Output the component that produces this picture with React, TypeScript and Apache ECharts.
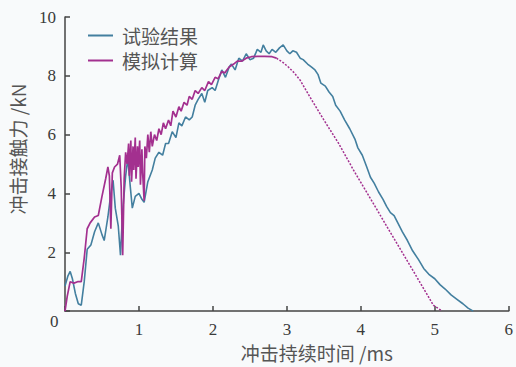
import React, { useEffect, useRef } from "react";
import * as echarts from "echarts";

const expTime = [0.00,0.04,0.07,0.10,0.14,0.18,0.22,0.26,0.30,0.35,0.40,0.45,0.50,0.53,0.58,0.62,0.65,0.68,0.72,0.75,0.78,0.82,0.85,0.88,0.91,0.95,1.00,1.04,1.07,1.12,1.18,1.22,1.27,1.32,1.36,1.40,1.45,1.50,1.54,1.58,1.63,1.68,1.72,1.76,1.80,1.85,1.89,1.93,1.99,2.03,2.08,2.12,2.17,2.22,2.25,2.30,2.35,2.40,2.45,2.50,2.55,2.60,2.65,2.68,2.72,2.76,2.80,2.85,2.90,2.95,3.00,3.04,3.08,3.13,3.18,3.22,3.28,3.33,3.38,3.42,3.46,3.52,3.57,3.62,3.66,3.72,3.78,3.85,3.92,3.96,4.02,4.08,4.13,4.18,4.24,4.30,4.35,4.40,4.45,4.50,4.56,4.63,4.70,4.78,4.85,4.92,5.00,5.07,5.14,5.22,5.30,5.38,5.45,5.52];
const expForce = [0.85,1.2,1.35,1.1,0.6,0.25,0.2,1.0,2.1,2.25,2.7,3.0,2.6,2.4,3.2,4.0,4.45,3.5,2.9,1.9,3.4,4.6,5.2,4.3,3.5,3.9,4.0,3.8,3.7,4.4,4.8,5.2,5.4,5.3,5.7,5.7,6.1,5.9,6.4,6.3,6.6,6.5,6.6,7.0,7.2,7.4,7.1,7.5,7.6,7.5,7.9,8.2,7.95,8.3,8.4,8.2,8.6,8.5,8.75,8.55,8.6,8.9,8.8,9.05,8.85,8.75,8.9,8.8,8.95,9.05,8.85,8.75,8.85,8.8,8.6,8.55,8.4,8.3,8.2,8.05,7.75,7.65,7.45,7.3,7.0,6.8,6.5,6.2,5.85,5.55,5.3,4.9,4.55,4.35,4.05,3.8,3.55,3.35,3.25,3.0,2.7,2.4,2.05,1.75,1.45,1.25,1.1,0.9,0.75,0.55,0.4,0.25,0.1,0.0];

const simRiseTime = [0.00,0.03,0.07,0.12,0.17,0.22,0.26,0.30,0.34,0.40,0.45,0.50,0.55,0.58,0.60,0.62,0.64,0.67,0.71,0.74,0.76,0.78,0.80,0.82,0.84,0.86,0.87,0.89,0.90,0.92,0.93,0.95,0.96,0.98,0.99,1.01,1.02,1.04,1.05,1.07,1.08,1.10,1.12,1.14,1.16,1.18,1.21,1.24,1.27,1.30,1.33,1.36,1.40,1.43,1.46,1.50,1.54,1.57,1.61,1.65,1.68,1.72,1.76,1.80,1.85,1.89,1.94,1.98,2.03,2.07,2.12,2.16,2.22,2.28,2.33,2.39,2.45,2.52,2.60,2.70,2.80,2.86];
const simRiseForce = [0.0,0.5,1.0,0.95,1.0,1.0,1.8,2.8,3.0,3.2,3.25,3.9,4.5,4.9,4.6,2.8,4.7,4.9,5.0,5.3,4.2,1.9,4.5,5.4,5.0,5.7,4.6,5.8,4.4,5.6,4.8,5.9,4.5,5.6,4.9,5.8,4.3,5.5,4.7,3.75,5.6,5.2,6.0,5.4,6.1,5.6,6.0,5.8,6.2,6.0,6.4,6.2,6.5,6.3,6.8,6.6,6.95,6.8,7.1,7.0,7.3,7.2,7.5,7.4,7.6,7.5,7.8,7.7,7.95,7.9,8.15,8.1,8.3,8.4,8.5,8.5,8.6,8.65,8.66,8.66,8.65,8.6];

const simFallTime = [2.86,2.95,3.02,3.10,3.18,3.33,3.50,3.70,3.90,4.10,4.30,4.50,4.70,4.90,4.98,5.10];
const simFallForce = [8.6,8.45,8.3,8.1,7.85,7.2,6.5,5.7,4.8,3.95,3.1,2.25,1.4,0.55,0.2,0.0];

const xTicks = [0, 1, 2, 3, 4, 5, 6];
const yTicks = [0, 2, 4, 6, 8, 10];

const zip = (a: number[], b: number[]) => a.map((v, i) => [v, b[i]]);

export default function App() {
  const ref = useRef<HTMLDivElement>(null);
  useEffect(() => {
    if (!ref.current) return;
    const chart = echarts.init(ref.current, null, { renderer: "svg" });
    const blue = "#437f9f";
    const purple = "#a3308f";
    const axisColor = "#444";
    const cjk = "Noto Sans CJK SC";
    const serif = "Liberation Serif";
    chart.setOption({
      animation: false,
      backgroundColor: "#f8fafb",
      grid: { left: 62, right: 7, top: 17, bottom: 55 },
      legend: {
        orient: "vertical",
        left: 83,
        top: 21,
        itemWidth: 25,
        itemHeight: 2,
        itemGap: 6,
        icon: "rect",
        data: ["试验结果", "模拟计算"],
        textStyle: { fontFamily: cjk, fontSize: 19, lineHeight: 19, color: "#555", padding: [0, 0, 0, 4] },
      },
      xAxis: {
        type: "value",
        min: xTicks[0],
        max: xTicks[xTicks.length - 1],
        interval: 1,
        name: "冲击持续时间 /ms",
        nameLocation: "middle",
        nameGap: 29,
        nameTextStyle: { fontFamily: cjk, fontSize: 19, color: "#555", padding: [0, 0, 0, 60] },
        axisLine: { lineStyle: { color: axisColor, width: 1.5 } },
        axisTick: { inside: true, length: 5, lineStyle: { color: axisColor, width: 1.5 } },
        splitLine: { show: false },
        axisLabel: {
          fontFamily: serif,
          fontSize: 17,
          color: "#3a3a3a",
          margin: 10,
          formatter: (v: number) => (v === 0 ? "" : String(v)),
        },
      },
      yAxis: {
        type: "value",
        min: yTicks[0],
        max: yTicks[yTicks.length - 1],
        interval: 2,
        name: "冲击接触力 /kN",
        nameLocation: "middle",
        nameGap: 38,
        nameTextStyle: { fontFamily: cjk, fontSize: 19, color: "#555", padding: [0, 0, 0, 30] },
        axisLine: { show: true, lineStyle: { color: axisColor, width: 1.5 } },
        axisTick: { show: true, inside: true, length: 5, lineStyle: { color: axisColor, width: 1.5 } },
        splitLine: { show: false },
        axisLabel: {
          fontFamily: serif,
          fontSize: 17,
          color: "#3a3a3a",
          margin: 9,
          formatter: (v: number) => (v === 0 ? "" : String(v)),
        },
      },
      graphic: [
        {
          type: "text",
          left: 50,
          top: 313,
          style: { text: "0", fontFamily: serif, fontSize: 17, fill: "#3a3a3a" },
        },
      ],
      series: [
        {
          name: "试验结果",
          type: "line",
          symbol: "none",
          data: zip(expTime, expForce),
          lineStyle: { color: blue, width: 1.6 },
          itemStyle: { color: blue },
          z: 2,
        },
        {
          name: "模拟计算",
          type: "line",
          symbol: "none",
          data: zip(simRiseTime, simRiseForce),
          lineStyle: { color: purple, width: 1.7 },
          itemStyle: { color: purple },
          z: 3,
        },
        {
          name: "模拟计算",
          type: "line",
          symbol: "none",
          data: zip(simFallTime, simFallForce),
          lineStyle: { color: purple, width: 1.5, type: [2, 1.5] },
          itemStyle: { color: purple },
          z: 3,
        },
      ],
    });
    return () => chart.dispose();
  }, []);
  return <div ref={ref} style={{ position: "fixed", left: 0, top: 0, width: 516, height: 367 }} />;
}
